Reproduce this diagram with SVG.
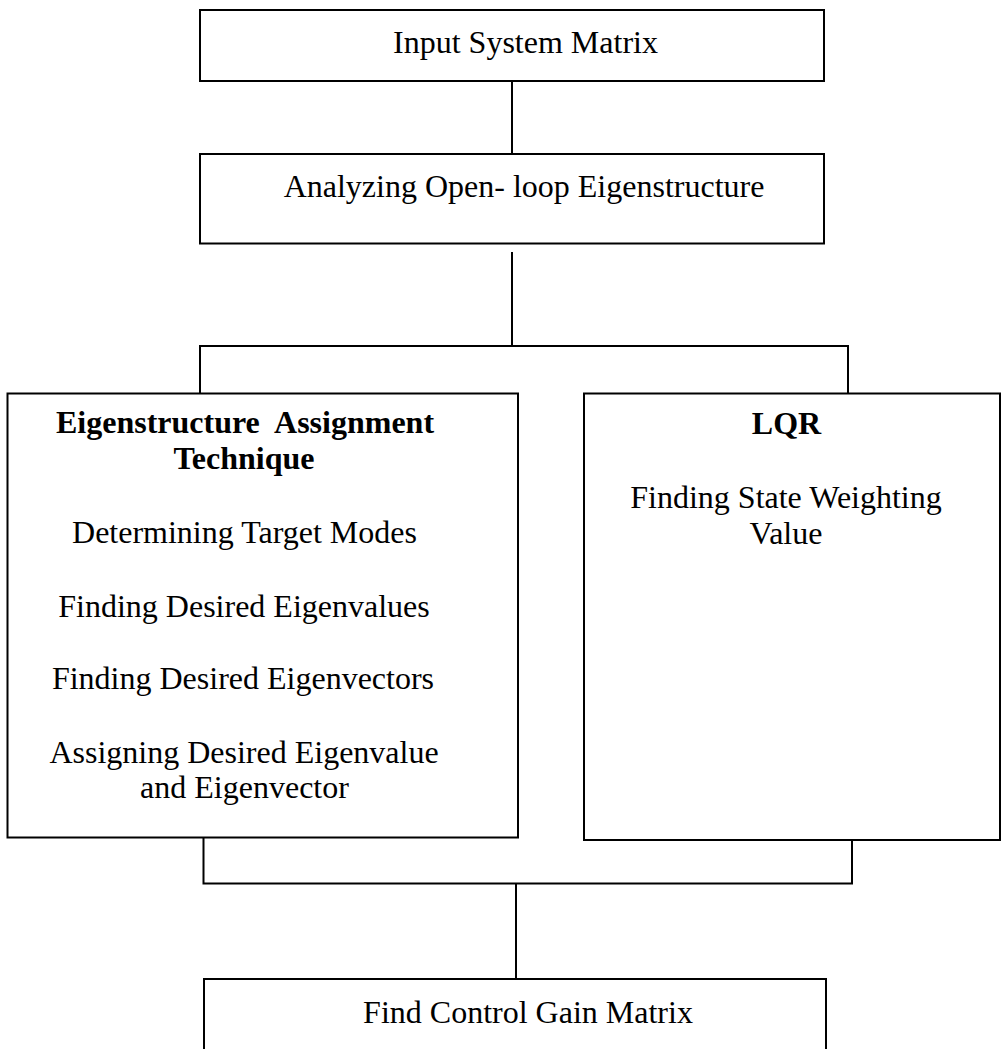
<svg xmlns="http://www.w3.org/2000/svg" width="1006" height="1049" viewBox="0 0 1006 1049">
<style>
.box{fill:#fff;stroke:#000;stroke-width:2}
.ln{fill:none;stroke:#000;stroke-width:2}
text{font-family:"Liberation Serif","Times New Roman",serif;font-size:32px;fill:#000;text-anchor:middle}
.b{font-weight:bold}
</style>
<rect width="1006" height="1049" fill="#fff"/>
<g id="connectors">
<path class="ln" d="M512 81V154"/>
<path class="ln" d="M512 252V346"/>
<path class="ln" d="M200 393V346H848V393"/>
<path class="ln" d="M203.5 836V883.5H852V836"/>
<path class="ln" d="M516 883.5V979"/>
</g>
<g id="n1">
<rect class="box" x="200" y="10" width="624" height="71"/>
<text x="525.5" y="53">Input System Matrix</text>
</g>
<g id="n2">
<rect class="box" x="200" y="154" width="624" height="89.5"/>
<text x="524" y="197">Analyzing Open- loop Eigenstructure</text>
</g>
<g id="n3">
<rect class="box" x="7.5" y="393.5" width="510.5" height="444"/>
<text class="b" x="245" y="433" xml:space="preserve">Eigenstructure  Assignment</text>
<text class="b" x="244" y="469">Technique</text>
<text x="244.5" y="543">Determining Target Modes</text>
<text x="244" y="617">Finding Desired Eigenvalues</text>
<text x="243" y="689">Finding Desired Eigenvectors</text>
<text x="244" y="762.5">Assigning Desired Eigenvalue</text>
<text x="244.5" y="798">and Eigenvector</text>
</g>
<g id="n4">
<rect class="box" x="584" y="393.5" width="416" height="446.5"/>
<text class="b" x="786.5" y="434">LQR</text>
<text x="786" y="508">Finding State Weighting</text>
<text x="786" y="544">Value</text>
</g>
<g id="n5">
<rect class="box" x="204" y="979" width="622" height="80"/>
<text x="528" y="1023">Find Control Gain Matrix</text>
</g>
</svg>
